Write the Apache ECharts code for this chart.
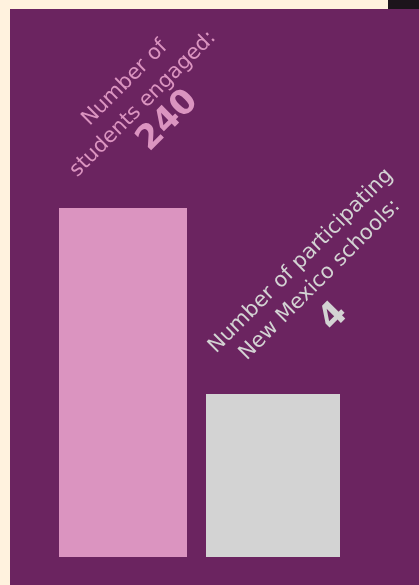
<!DOCTYPE html>
<html><head><meta charset="utf-8">
<script src="https://cdn.jsdelivr.net/npm/echarts@6/dist/echarts.min.js"></script>
<style>html,body{margin:0;padding:0;background:#fff2de}#c{width:419px;height:585px}</style>
</head><body><div id="c"></div>
<script>
const categories = ['Students engaged', 'Participating New Mexico schools'];
const students = [240];
const schools = [4];
const labelLines1 = ['Number of', 'students engaged:'];
const labelLines2 = ['Number of participating', 'New Mexico schools:'];

const chart = echarts.init(document.getElementById('c'));
const R = Math.PI / 4;
const font = '"DejaVu Sans", sans-serif';
function txt(text, x, y, size, weight, color) {
  return { type: 'text', x: x, y: y, rotation: R, z: 10,
    style: { text: text, fill: color, font: weight + ' ' + size + 'px ' + font, align: 'center', verticalAlign: 'middle' } };
}
const pink = '#db94c0', gray = '#d3d3d3';
chart.setOption({
  backgroundColor: '#fff2de',
  animation: false,
  grid: { left: 48, width: 300, top: 208, bottom: 28 },
  xAxis: [
    { type: 'category', data: categories, show: false },
    { type: 'category', data: categories, show: false }
  ],
  yAxis: [
    { type: 'value', min: 0, max: 240, show: false },
    { type: 'value', min: 0, max: 8.564, show: false }
  ],
  series: [
    { type: 'bar', xAxisIndex: 0, yAxisIndex: 0, data: [students[0], '-'], barWidth: 128, itemStyle: { color: pink } },
    { type: 'bar', xAxisIndex: 1, yAxisIndex: 1, data: ['-', schools[0]], barWidth: 134, itemStyle: { color: gray } }
  ],
  graphic: [
    { type: 'rect', shape: { x: 10, y: 9, width: 409, height: 576 }, style: { fill: '#6b2460' }, z: -10, silent: true },
    { type: 'rect', shape: { x: 388, y: 0, width: 31, height: 9 }, style: { fill: '#1c141b' }, z: -10, silent: true },
    txt(labelLines1[0], 125, 83, 21, 'normal', pink),
    txt(labelLines1[1], 143, 104, 21, 'normal', pink),
    txt(String(students[0]), 168, 121, 34, 'bold', pink),
    txt(labelLines2[0], 301, 261, 21, 'normal', gray),
    txt(labelLines2[1], 320, 280, 21, 'normal', gray),
    txt(String(schools[0]), 334, 317, 35, 'bold', gray)
  ]
});
</script></body></html>
